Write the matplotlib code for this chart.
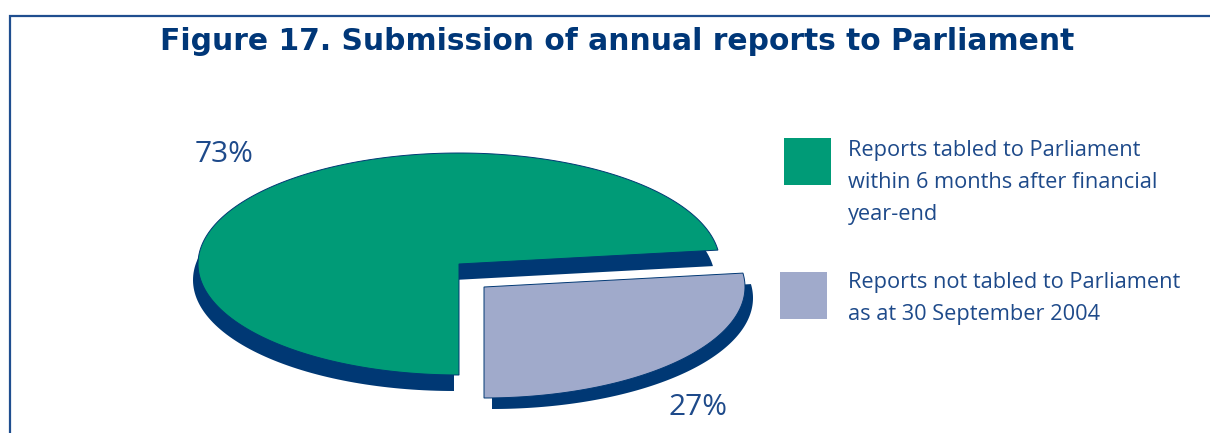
import numpy as np
import matplotlib
matplotlib.use("Agg")
import matplotlib.pyplot as plt
from matplotlib.patches import Polygon, Rectangle

# ---- data ----
title = "Figure 17. Submission of annual reports to Parliament"
categories = ["Reports tabled to Parliament\nwithin 6 months after financial\nyear-end",
              "Reports not tabled to Parliament\nas at 30 September 2004"]
values = [73, 27]
pct_labels = ["73%", "27%"]

# ---- style ----
W, H = 1210, 433
colors = ["#009B77", "#A0AACB"]
side_color = "#003874"
title_color = "#003778"
text_color = "#1E4A8A"

fig = plt.figure(figsize=(W / 100, H / 100), dpi=100)
ax = fig.add_axes([0, 0, 1, 1])
ax.set_xlim(0, W)
ax.set_ylim(H, 0)
ax.axis("off")

# frame
ax.plot([10, 10, W + 5], [H + 5, 16, 16], color="#1F4E8F", lw=1.6,
        solid_capstyle="butt", solid_joinstyle="miter")

ax.text(617, 50, title, ha="center", va="baseline", fontsize=21.45,
        fontweight="bold", family="DejaVu Sans", color=title_color)

# pie geometry (pixel space)
cx, cy = 459, 264
rx, ry = 261, 111
total = float(sum(values))
start = -90 + 360 * values[1] / total   # grey slice ends at bottom
explode = [(0, 0), (25, 23)]
shadow = [(-5, 16), (8, 11)]


def wedge_pts(a0, a1, dx, dy):
    t = np.radians(np.linspace(a0, a1, 200))
    xs = cx + dx + rx * np.cos(t)
    ys = cy + dy - ry * np.sin(t)
    xs = np.concatenate([[cx + dx], xs])
    ys = np.concatenate([[cy + dy], ys])
    return np.column_stack([xs, ys])


angles = []
a = start
for v in values:
    angles.append((a, a + 360 * v / total))
    a += 360 * v / total

# offset shadows first
for i, (a0, a1) in enumerate(angles):
    ex, ey = explode[i]
    sx, sy = shadow[i]
    pts = wedge_pts(a0, a1, ex + sx, ey + sy)
    ax.add_patch(Polygon(pts, closed=True, facecolor=side_color,
                         edgecolor="none", zorder=1 + i))

# top faces
for i, (a0, a1) in enumerate(angles):
    ex, ey = explode[i]
    pts = wedge_pts(a0, a1, ex, ey)
    ax.add_patch(Polygon(pts, closed=True, facecolor=colors[i],
                         edgecolor=side_color, lw=0.7, zorder=3 + i))

# percentage labels
ax.text(195, 162, pct_labels[0], ha="left", va="baseline", fontsize=21.5,
        family="Open Sans", color=text_color)
ax.text(668, 415, pct_labels[1], ha="left", va="baseline", fontsize=21.5,
        family="Open Sans", color=text_color)

# legend
sq = [(784, 138, 47, 47), (780, 272, 47, 47)]
baselines = [156, 288]
for i, lab in enumerate(categories):
    x0, y0, w, h = sq[i]
    ax.add_patch(Rectangle((x0, y0), w, h, facecolor=colors[i],
                           edgecolor="none", zorder=5))
    for j, line in enumerate(lab.split("\n")):
        ax.text(848, baselines[i] + 32 * j, line, ha="left", va="baseline",
                fontsize=15.7, family="Open Sans", color=text_color)

fig.savefig("out.png", dpi=100)
